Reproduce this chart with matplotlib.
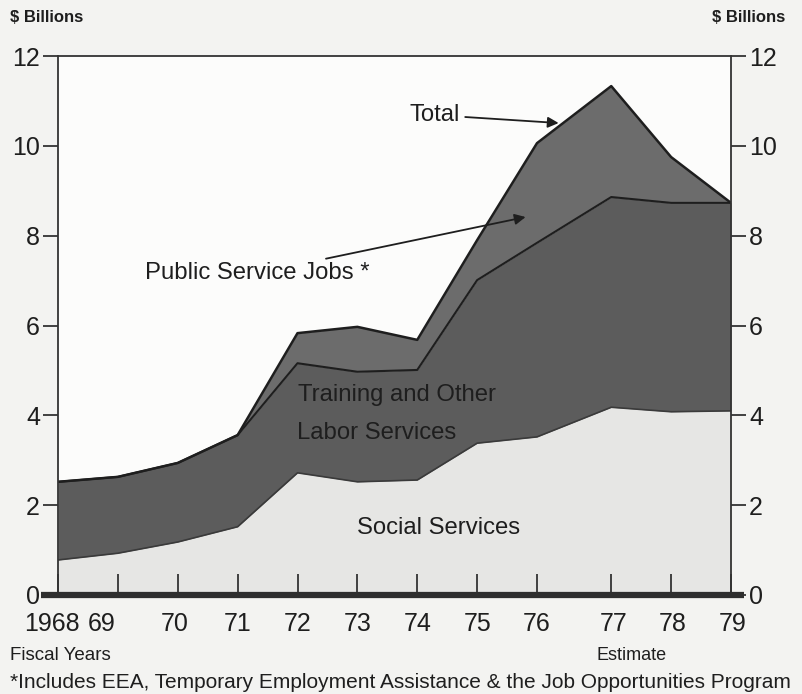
import matplotlib
matplotlib.use("Agg")
import matplotlib.pyplot as plt
from matplotlib.transforms import ScaledTranslation
import numpy as np

# Fiscal years and outlays ($ billions)
years = [1968, 1969, 1970, 1971, 1972, 1973, 1974, 1975, 1976, 1977, 1978, 1979]
year_labels = ["1968", "69", "70", "71", "72", "73", "74", "75", "76", "77", "78", "79"]
social_services = [0.78, 0.93, 1.18, 1.52, 2.72, 2.52, 2.56, 3.38, 3.52, 4.18, 4.08, 4.10]
training_labor = [1.74, 1.70, 1.76, 2.04, 2.44, 2.45, 2.45, 3.63, 4.32, 4.68, 4.65, 4.63]
public_service_jobs = [0.0, 0.0, 0.0, 0.0, 0.67, 1.00, 0.67, 0.89, 2.22, 2.47, 1.02, 0.0]
y_ticks = [0, 2, 4, 6, 8, 10, 12]

# the transition quarter between FY76 and FY77 widens that gap on the time axis
x = np.array([y - years[0] + (0.24 if y >= 1977 else 0.0) for y in years])

plt.rcParams['font.family'] = ['Liberation Sans', 'DejaVu Sans']

BG = "#f3f3f1"
INK = "#1e1e1e"
fig = plt.figure(figsize=(8.02, 6.94), dpi=100, facecolor=BG)
ax = fig.add_axes([58 / 802, 1 - 595 / 694, (731 - 58) / 802, (595 - 56) / 694])
ax.set_facecolor("#fcfcfb")

soc = np.array(social_services)
trn = soc + np.array(training_labor)
tot = trn + np.array(public_service_jobs)

ax.fill_between(x, 0, soc, color="#e6e6e4", lw=0)
ax.fill_between(x, soc, trn, color="#5c5c5c", lw=0)
ax.fill_between(x, trn, tot, color="#6c6c6c", lw=0)
ax.plot(x, soc, color="#3a3a3a", lw=1.2)
ax.plot(x, trn, color=INK, lw=1.5)
ax.plot(x, tot, color=INK, lw=1.8)

ax.set_xlim(x[0], x[-1])
ax.set_ylim(0, 12)

# spines
for s in ["left", "right", "top"]:
    ax.spines[s].set_color("#333333")
    ax.spines[s].set_linewidth(1.3)
ax.spines["bottom"].set_visible(False)

# heavy baseline running past both vertical axes
ax.plot([-0.025, 1.02], [0, 0], transform=ax.get_yaxis_transform(), color="#2e2e2e",
        lw=4.5, clip_on=False, solid_capstyle="butt", zorder=5)

# y ticks on both sides
ax.set_yticks(y_ticks)
ax.set_yticklabels([str(v) for v in y_ticks])
ax.tick_params(axis="y", which="both", direction="out", length=11, width=1.3,
               color="#333333", labelsize=18, labelcolor=INK, pad=2,
               left=True, right=True, labelleft=True, labelright=True)

# x ticks point up into the plot
ax.set_xticks(x)
ax.set_xticklabels(year_labels)
ax.tick_params(axis="x", direction="in", length=15, width=1.3, color="#333333",
               labelsize=18, labelcolor=INK, pad=12)
for lbl, dx in zip(ax.get_xticklabels(), [-6, -16, -3, 0, 0, 0, 0, 0, 0, 2, 2, 2]):
    lbl.set_transform(lbl.get_transform() + ScaledTranslation(dx / 100, 0, fig.dpi_scale_trans))

def px(xp, yp):
    return ((xp - 58) / 59.8, (595 - yp) / 44.92)

# area labels
FS = 17.2
ax.text(*px(298, 395), "Training and Other", fontsize=FS, color=INK, ha="left", va="center")
ax.text(*px(297, 433), "Labor Services", fontsize=FS, color=INK, ha="left", va="center")
ax.text(*px(438, 528), "Social Services", fontsize=FS, color=INK, ha="center", va="center")

arrow = dict(arrowstyle="-|>", color=INK, lw=1.3, mutation_scale=16, shrinkA=2, shrinkB=0)
ax.annotate("Total", xy=px(558, 123), xytext=px(434, 115), fontsize=FS, color=INK,
            ha="center", va="center", arrowprops=arrow)
ax.annotate("Public Service Jobs *", xy=px(525, 217), xytext=px(257, 273), fontsize=FS,
            color=INK, ha="center", va="center", arrowprops=arrow)

# captions around the frame
fig.text(10 / 802, 1 - 18 / 694, "$ Billions", fontsize=12, fontweight="bold", color=INK,
         ha="left", va="center")
fig.text(785 / 802, 1 - 18 / 694, "$ Billions", fontsize=12, fontweight="bold", color=INK,
         ha="right", va="center")
fig.text(10 / 802, 1 - 656 / 694, "Fiscal Years", fontsize=13.5, color=INK, ha="left", va="center")
fig.text(632 / 802, 1 - 656 / 694, "Estimate", fontsize=13, color=INK, ha="center", va="center")
fig.text(10 / 802, 1 - 682 / 694,
         "*Includes EEA, Temporary Employment Assistance & the Job Opportunities Program",
         fontsize=15, color=INK, ha="left", va="center")

fig.savefig("out.png", dpi=100, facecolor=BG)
